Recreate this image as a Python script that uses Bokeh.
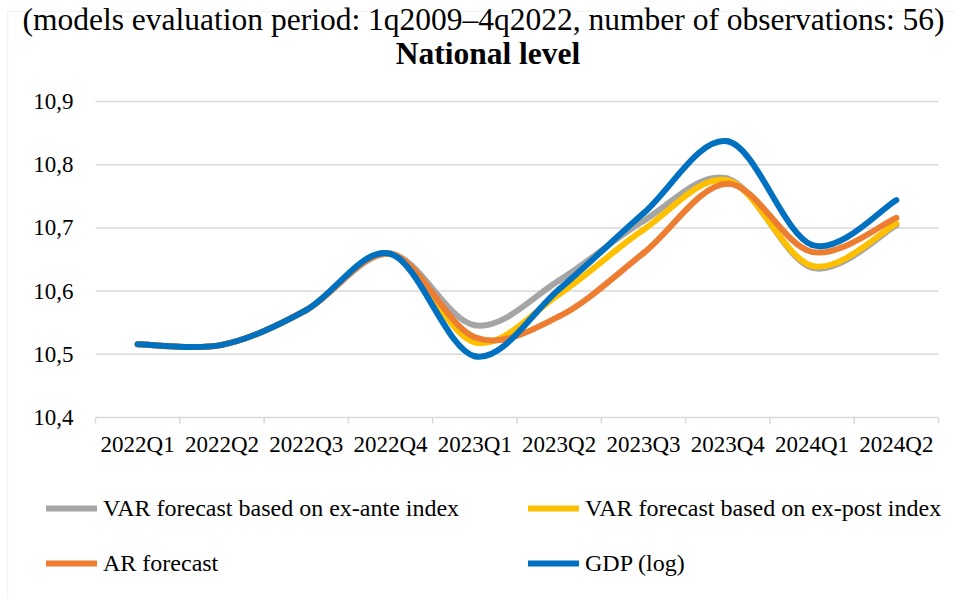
import numpy as np
from bokeh.plotting import figure
from bokeh.models import (Range1d, Legend, LegendItem, Label, BoxAnnotation,
                          ColumnDataSource)
from bokeh.core.properties import value
from bokeh.embed import file_html
from bokeh.resources import INLINE

# ---------------- data ----------------
categories = ["2022Q1", "2022Q2", "2022Q3", "2022Q4", "2023Q1",
              "2023Q2", "2023Q3", "2023Q4", "2024Q1", "2024Q2"]
var_ex_ante = [10.516, 10.515, 10.570, 10.659, 10.546, 10.617, 10.711, 10.778, 10.637, 10.704]
var_ex_post = [10.516, 10.515, 10.570, 10.659, 10.519, 10.595, 10.697, 10.775, 10.640, 10.707]
ar_forecast = [10.516, 10.515, 10.570, 10.659, 10.527, 10.560, 10.660, 10.770, 10.662, 10.716]
gdp_log     = [10.516, 10.515, 10.570, 10.659, 10.497, 10.603, 10.723, 10.837, 10.673, 10.744]
y_ticks = [10.4, 10.5, 10.6, 10.7, 10.8, 10.9]

series_names = ["VAR forecast based on ex-ante index",
                "VAR forecast based on ex-post index",
                "AR forecast", "GDP (log)"]
series_colors = ["#A5A5A5", "#FFC000", "#ED7D31", "#0070C0"]
title_text = "National level"
subtitle_text = "(models evaluation period: 1q2009\u20134q2022, number of observations: 56)"

# ---------------- layout (pixels) ----------------
W, H = 954, 598
PLOT_LEFT, PLOT_RIGHT, PLOT_TOP, PLOT_BOTTOM = 95, 938, 101, 417
FONT = "Liberation Serif"
GRID = "#D9D9D9"

n = len(categories)
y_lo, y_hi = y_ticks[0], y_ticks[-1]
px_x = (PLOT_RIGHT - PLOT_LEFT) / n                 # pixels per category
px_y = (PLOT_BOTTOM - PLOT_TOP) / (y_hi - y_lo)     # pixels per unit
x_range = Range1d(-PLOT_LEFT / px_x, n + (W - PLOT_RIGHT) / px_x)
y_range = Range1d(y_lo - (H - PLOT_BOTTOM) / px_y, y_hi + PLOT_TOP / px_y)


def smooth_source(vals):
    """Bezier segments (Excel-like smoothed line) through the category points."""
    m = len(vals)
    x = np.arange(m) + 0.5
    y = np.asarray(vals, dtype=float)
    xp = np.concatenate([[x[0]], x, [x[-1]]])
    yp = np.concatenate([[y[0]], y, [y[-1]]])
    k = 6.0
    return ColumnDataSource(dict(
        x0=xp[1:m], y0=yp[1:m],
        x1=xp[2:m + 1], y1=yp[2:m + 1],
        cx0=xp[1:m] + (xp[2:m + 1] - xp[0:m - 1]) / k,
        cy0=yp[1:m] + (yp[2:m + 1] - yp[0:m - 1]) / k,
        cx1=xp[2:m + 1] - (xp[3:m + 2] - xp[1:m]) / k,
        cy1=yp[2:m + 1] - (yp[3:m + 2] - yp[1:m]) / k,
    ))


p = figure(width=W, height=H, output_backend="svg", toolbar_location=None,
           title=None, x_axis_type=None, y_axis_type=None,
           x_range=x_range, y_range=y_range,
           min_border_left=0, min_border_right=0, min_border_top=0, min_border_bottom=0)
p.outline_line_color = None
p.background_fill_color = "white"
p.border_fill_color = "white"
p.grid.visible = False

# horizontal gridlines (the lowest one doubles as the category axis line)
p.segment(x0=[0] * len(y_ticks), x1=[n] * len(y_ticks), y0=y_ticks, y1=y_ticks,
          line_color=GRID, line_width=1.5)
# category boundary tick marks
bounds = list(range(n + 1))
p.segment(x0=bounds, x1=bounds, y0=[y_lo] * (n + 1), y1=[y_lo - 6 / px_y] * (n + 1),
          line_color=GRID, line_width=1.5)

# value-axis labels (decimal comma)
y_labels = [f"{v:.1f}".replace(".", ",") for v in y_ticks]
p.text(x=[0] * len(y_ticks), y=y_ticks, text=y_labels, x_offset=-22,
       text_align="right", text_baseline="middle", text_font=value(FONT),
       text_font_size=value("23px"), text_color="#000000")
# category-axis labels
p.text(x=[i + 0.5 for i in range(n)], y=[y_lo] * n, text=categories, y_offset=27,
       text_align="center", text_baseline="middle", text_font=value(FONT),
       text_font_size=value("23px"), text_color="#000000")

# smoothed series
renderers = []
for vals, color in zip([var_ex_ante, var_ex_post, ar_forecast, gdp_log], series_colors):
    r = p.bezier(x0="x0", y0="y0", x1="x1", y1="y1", cx0="cx0", cy0="cy0",
                 cx1="cx1", cy1="cy1", source=smooth_source(vals),
                 line_color=color, line_width=6, line_cap="round")
    renderers.append(r)

# outer chart-area border
p.add_layout(BoxAnnotation(left=7, right=W + 10, top=H - 11, bottom=-10,
                           left_units="screen", right_units="screen",
                           top_units="screen", bottom_units="screen",
                           fill_alpha=0, line_color=GRID, line_width=1.5))

# legend (two columns under the plot)
legend = Legend(items=[LegendItem(label=nm, renderers=[r]) for nm, r in zip(series_names, renderers)],
                orientation="horizontal", ncols=2, location=(46, 15),
                padding=0, margin=0, spacing=15,
                glyph_width=51, glyph_height=40, label_height=40, label_width=410,
                label_standoff=6, border_line_color=None, background_fill_alpha=0,
                label_text_font=FONT, label_text_font_size="24px",
                label_text_color="#000000")
p.add_layout(legend, "center")

# titles
p.add_layout(Label(x=487.5, y=H - 53, x_units="screen", y_units="screen",
                   text=title_text, text_font=FONT, text_font_style="bold",
                   text_font_size="31.5px", text_color="#000000",
                   text_align="center", text_baseline="middle"))
p.add_layout(Label(x=22, y=H - 19, x_units="screen", y_units="screen",
                   text=subtitle_text, text_font=FONT, text_font_size="31.5px",
                   text_color="#000000", text_align="left", text_baseline="middle"))

open("out.html", "w").write(file_html(p, INLINE))
